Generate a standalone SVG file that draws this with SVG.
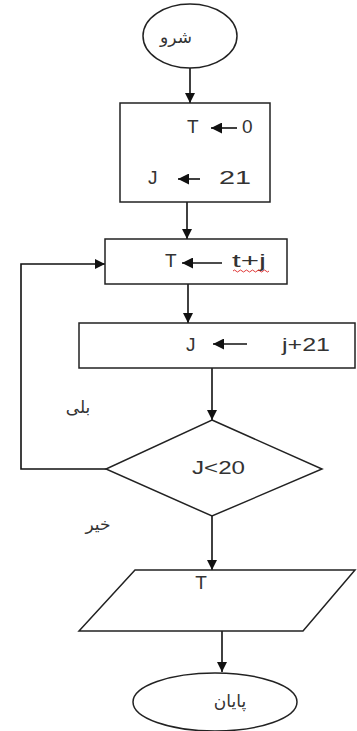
<svg xmlns="http://www.w3.org/2000/svg" width="357" height="731" viewBox="0 0 357 731">
<style>
.s{fill:#fff;stroke:#222;stroke-width:1.5}
.c{fill:none;stroke:#111;stroke-width:1.6}
.t{font-family:"Liberation Sans",Arial,sans-serif;font-size:19px;fill:#333}
.a{font-family:"DejaVu Sans","Noto Sans",sans-serif;font-size:17px;fill:#333}
</style>
<defs>
<marker id="ah" viewBox="0 0 10 10" refX="10" refY="5" markerWidth="10" markerHeight="10" markerUnits="userSpaceOnUse" orient="auto"><path d="M0,0L10,5L0,10z" fill="#111"/></marker>
<marker id="sh" viewBox="0 0 10 10" refX="10" refY="5" markerWidth="11" markerHeight="11" markerUnits="userSpaceOnUse" orient="auto"><path d="M0,0L10,5L0,10z" fill="#111"/></marker>
</defs>
<rect width="357" height="731" fill="#fff"/>
<g id="connectors">
<path class="c" d="M190,68V103" marker-end="url(#ah)"/>
<path class="c" d="M187,202V239" marker-end="url(#ah)"/>
<path class="c" d="M188,284V323" marker-end="url(#ah)"/>
<path class="c" d="M212,368V420" marker-end="url(#ah)"/>
<path class="c" d="M106,469H21V264H105" marker-end="url(#ah)"/>
<path class="c" d="M212,516V570" marker-end="url(#ah)"/>
<path class="c" d="M222,631V672" marker-end="url(#ah)"/>
</g>
<g id="start">
<ellipse class="s" cx="190" cy="36" rx="47" ry="32"/>
<text class="a" x="176" y="43" text-anchor="middle" font-size="20">شرو</text>
</g>
<g id="init">
<rect class="s" x="120" y="103" width="150" height="99"/>
<text class="t" x="187" y="133">T</text>
<path class="c" d="M237,128H211" marker-end="url(#sh)"/>
<text class="t" x="242" y="133">0</text>
<text class="t" x="148" y="184">J</text>
<path class="c" d="M200,179H178" marker-end="url(#sh)"/>
<text class="t" x="219" y="184" textLength="32" lengthAdjust="spacingAndGlyphs">21</text>
</g>
<g id="sum">
<rect class="s" x="105" y="239" width="182" height="45"/>
<text class="t" x="165" y="267">T</text>
<path class="c" d="M222,263H182" marker-end="url(#sh)"/>
<text class="t" x="232" y="267" textLength="34" lengthAdjust="spacingAndGlyphs">t+j</text>
<path d="M233,271q1.5,-2 3,0t3,0t3,0t3,0t3,0t3,0t3,0t3,0t3,0t3,0t3,0t3,0" fill="none" stroke="#d22" stroke-width="0.9"/>
</g>
<g id="inc">
<rect class="s" x="79" y="323" width="276" height="45"/>
<text class="t" x="186" y="351">J</text>
<path class="c" d="M247,344H213" marker-end="url(#sh)"/>
<text class="t" x="282" y="351" textLength="48" lengthAdjust="spacingAndGlyphs">j+21</text>
</g>
<g id="cond">
<polygon class="s" points="212,420 322,469 212,516 106,469"/>
<text class="t" x="192" y="474" textLength="53" lengthAdjust="spacingAndGlyphs">J&lt;20</text>
<text class="a" x="78" y="413" text-anchor="middle">بلی</text>
<text class="a" x="98" y="530" text-anchor="middle">خیر</text>
</g>
<g id="output">
<polygon class="s" points="135,570 355,570 303,631 79,631"/>
<text class="t" x="201" y="589" text-anchor="middle">T</text>
</g>
<g id="end">
<ellipse class="s" cx="215" cy="702" rx="82" ry="29"/>
<text class="a" x="230" y="707" text-anchor="middle">پایان</text>
</g>
</svg>
